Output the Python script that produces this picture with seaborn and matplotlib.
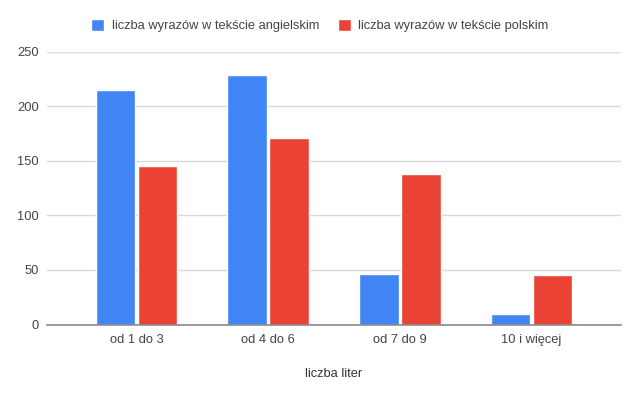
import numpy as np
import matplotlib.pyplot as plt
import seaborn as sns
import pandas as pd

categories = ['od 1 do 3', 'od 4 do 6', 'od 7 do 9', '10 i więcej']
series = ['liczba wyrazów w tekście angielskim', 'liczba wyrazów w tekście polskim']
english = [215, 229, 46, 10]
polish = [145, 171, 138, 45]
colors = ['#4285F4', '#EA4335']
yticks = [0, 50, 100, 150, 200, 250]

df = pd.DataFrame({
    'kategoria': categories * 2,
    'seria': [series[0]] * 4 + [series[1]] * 4,
    'wartosc': english + polish,
})

sns.set_theme(style='white')
plt.rcParams['font.family'] = ['Liberation Sans', 'DejaVu Sans']

fig = plt.figure(figsize=(6.4, 3.96), dpi=100)
ax = fig.add_axes([47 / 640, (396 - 324.5) / 396, (621 - 47) / 640, (324.5 - 51.7) / 396])

sns.barplot(data=df, x='kategoria', y='wartosc', hue='seria', palette=colors,
            width=0.635, gap=0.05, ax=ax, saturation=1, legend=True)

ax.set_xlim(-0.68, 3.68)
ax.set_ylim(0, 250)
ax.set_yticks(yticks)
ax.yaxis.grid(True, color='#d9d9d9', linewidth=1)
ax.set_axisbelow(True)
for s in ['left', 'right', 'top']:
    ax.spines[s].set_visible(False)
ax.spines['bottom'].set_color('#8a8a8a')
ax.spines['bottom'].set_linewidth(1.2)
ax.tick_params(axis='both', length=0, labelsize=9.3, colors='#444444')
ax.tick_params(axis='y', pad=6)
ax.tick_params(axis='x', pad=7)
ax.set_ylabel('')
ax.set_xlabel('liczba liter', fontsize=9.3, color='#333333', labelpad=16)

handles, labels = ax.get_legend_handles_labels()
ax.get_legend().remove()
fig.legend(handles, labels, loc='center', bbox_to_anchor=(0.5, 1 - 25.7 / 396), ncol=2,
           frameon=False, fontsize=9.3, handlelength=1.0, handleheight=1.1,
           handletextpad=0.6, columnspacing=1.4, labelcolor='#444444')

fig.savefig('out.png', dpi=100)
